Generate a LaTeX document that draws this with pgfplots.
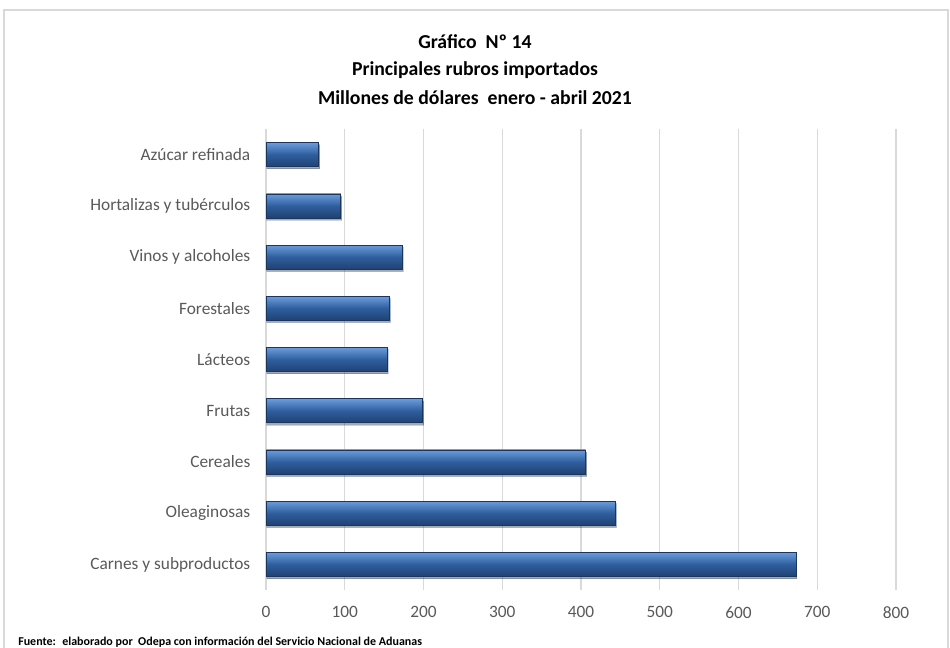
\documentclass[border=0pt]{standalone}
\usepackage{fontspec}
\setmainfont{Carlito}
\usepackage{pgfplots}
\pgfplotsset{compat=1.18}
\usetikzlibrary{shadows}
\definecolor{gridgray}{HTML}{D9D9D9}
\definecolor{framegray}{HTML}{D9D9D9}
\definecolor{labelgray}{HTML}{595959}
\definecolor{barTop}{HTML}{6A9CDC}
\definecolor{barMid}{HTML}{2F5E9E}
\definecolor{barBot}{HTML}{1F4272}
\definecolor{barEdge}{HTML}{1B355C}
\tikzset{barstyle/.style={draw=barEdge, line width=0.5pt, top color=barTop, bottom color=barBot, middle color=barMid,
  drop shadow={shadow xshift=0.6pt, shadow yshift=-1.6pt, opacity=0.22, fill=black}}}
\begin{document}
\begin{tikzpicture}[x=1pt,y=1pt]
\useasboundingbox (0,0) rectangle (712.5,485.25);
\draw[framegray, line width=0.9pt] (3,-5) -- (3,477.75) -- (711,477.75) -- (711,-5);
\begin{axis}[
  at={(199.5pt,42.75pt)}, anchor=south west,
  scale only axis, width=472.5pt, height=345.75pt,
  xmin=0, xmax=800, ymin=-0.5, ymax=8.5,
  xbar, bar width=18pt, bar shift=0pt,
  xtick={0,100,...,800},
  ytick={0,...,8},
  yticklabels={Carnes y subproductos, Oleaginosas, Cereales, Frutas, Lácteos, Forestales, Vinos y alcoholes, Hortalizas y tubérculos, Azúcar refinada},
  xmajorgrids, grid style={gridgray, line width=0.9pt},
  axis line style={draw=none},
  major tick style={draw=none},
  ticklabel style={font=\fontsize{13}{15}\selectfont, text=labelgray},
  yticklabel style={xshift=-4pt},
  xticklabel style={yshift=-9pt},
  /pgf/number format/assume math mode=true,
]
% one plot per bar so that each bar gets its own shading
\addplot[barstyle] coordinates {(673,0)};
\addplot[barstyle] coordinates {(444,1)};
\addplot[barstyle] coordinates {(406,2)};
\addplot[barstyle] coordinates {(199,3)};
\addplot[barstyle] coordinates {(154,4)};
\addplot[barstyle] coordinates {(157,5)};
\addplot[barstyle] coordinates {(173,6)};
\addplot[barstyle] coordinates {(95,7)};
\addplot[barstyle] coordinates {(67,8)};
\end{axis}
\node[font=\bfseries\fontsize{14.8}{17}\selectfont] at (356.25,453.75) {Gráfico \ Nº 14};
\node[font=\bfseries\fontsize{14.8}{17}\selectfont] at (356.25,432.75) {Principales rubros importados};
\node[font=\bfseries\fontsize{14.8}{17}\selectfont] at (356.25,411.75) {Millones de dólares \ enero - abril 2021};
\node[font=\bfseries\fontsize{9}{10}\selectfont, anchor=west, inner sep=0pt] at (13.5,3.5) {Fuente: \ elaborado por \ Odepa con información del Servicio Nacional de Aduanas};
\end{tikzpicture}
\end{document}
